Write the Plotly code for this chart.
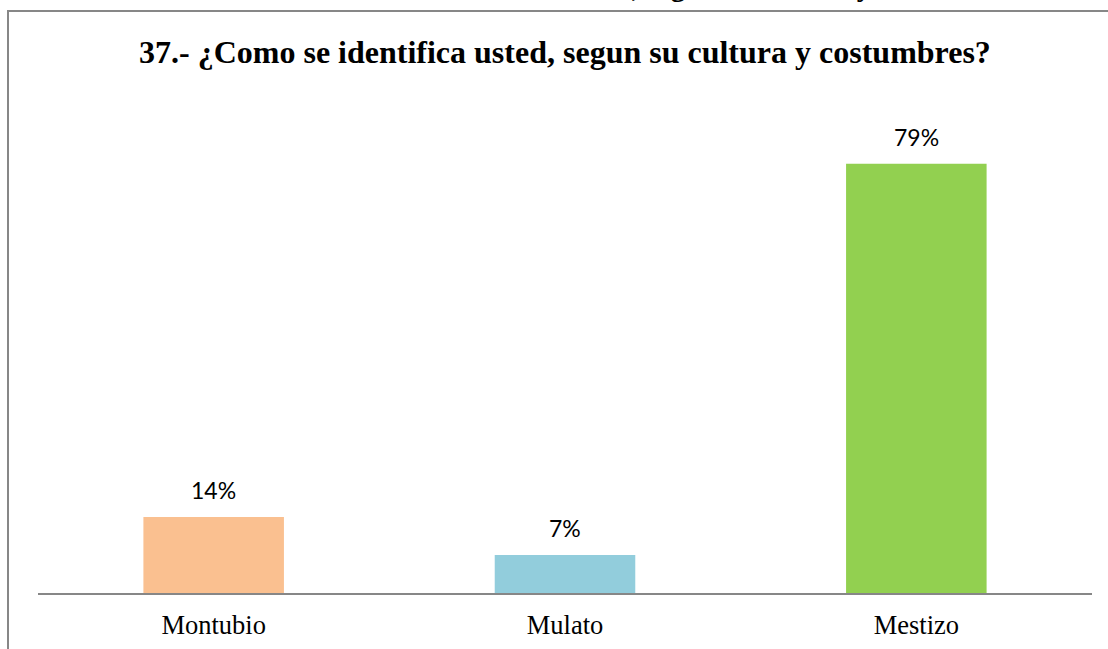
import plotly.graph_objects as go

# Survey question 37: cultural self-identification
categories = ["Montubio", "Mulato", "Mestizo"]
shares = [0.14, 0.07, 0.79]
bar_colors = ["#FAC090", "#92CDDC", "#92D050"]
title_text = "37.- ¿Como se identifica usted, segun su cultura y costumbres?"
caption_text = "Como se identifica usted, segun su cultura y costumbres"

W, H = 1108, 649
ML, MR, MT, MB = 38, 16, 104, 56
PW, PH = W - ML - MR, H - MT - MB


def px_to_paper_x(px):
    return (px - ML) / PW


def px_to_paper_y(py):
    return 1 + (MT - py) / PH


fig = go.Figure()
fig.add_trace(go.Bar(
    x=categories,
    y=shares,
    marker=dict(color=bar_colors, line=dict(width=0)),
    width=0.4,
    hoverinfo="skip",
))

# Percentage labels above each bar
for cat, val in zip(categories, shares):
    fig.add_annotation(
        x=cat, y=val, xref="x", yref="y",
        text=f"{val:.0%}", showarrow=False,
        yanchor="middle", yshift=27,
        font=dict(family="Lato, Open Sans, sans-serif", size=23, color="#000000"),
    )

# Chart title
fig.add_annotation(
    x=0.5, y=px_to_paper_y(52), xref="paper", yref="paper",
    text=f"<b>{title_text}</b>", showarrow=False,
    xanchor="center", yanchor="middle",
    font=dict(family="Liberation Serif, Times New Roman, serif", size=32, color="#000000"),
)

# Caption line from the page above the chart, running off the top edge
fig.add_annotation(
    x=0.5, y=1, xref="paper", yref="paper",
    text=f"<b>{caption_text}</b>", showarrow=False,
    xanchor="center", yanchor="bottom", xshift=110, yshift=MT - 4,
    font=dict(family="Liberation Serif, Times New Roman, serif", size=29, color="#000000"),
)

# Chart frame
fig.add_shape(
    type="rect", xref="paper", yref="paper",
    x0=px_to_paper_x(8), x1=px_to_paper_x(W + 20),
    y0=px_to_paper_y(H + 20), y1=px_to_paper_y(11),
    line=dict(color="#878787", width=2), fillcolor="rgba(0,0,0,0)",
    layer="below",
)

fig.update_layout(
    width=W, height=H,
    margin=dict(l=ML, r=MR, t=MT, b=MB, autoexpand=False),
    paper_bgcolor="#FFFFFF", plot_bgcolor="#FFFFFF",
    showlegend=False,
    bargap=0.6,
    xaxis=dict(
        showline=True, linecolor="#878787", linewidth=2,
        ticks="", showgrid=False, zeroline=False, automargin=False,
        tickfont=dict(family="Liberation Serif, Times New Roman, serif", size=26.5, color="#000000"),
        ticklabelstandoff=7,
    ),
    yaxis=dict(
        range=[0, 0.9], visible=False, showgrid=False, zeroline=False, automargin=False,
    ),
)

fig.write_html("out.html")
